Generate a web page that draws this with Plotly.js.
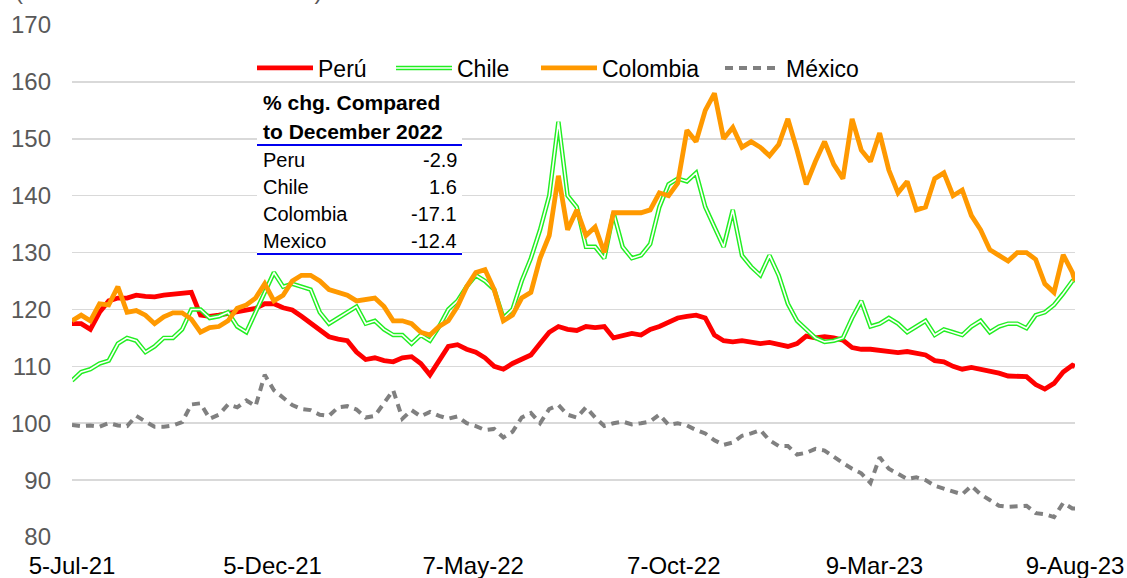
<!DOCTYPE html>
<html><head><meta charset="utf-8">
<script src="https://cdn.plot.ly/plotly-3.0.1.min.js"></script>
<style>html,body{margin:0;padding:0;background:#fff}#chart{width:1127px;height:578px}</style>
</head><body><div id="chart"></div>
<script>
const dates = [
'2021-07-05','2021-07-12','2021-07-19','2021-07-26','2021-08-02','2021-08-09','2021-08-16','2021-08-23','2021-08-30','2021-09-06',
'2021-09-13','2021-09-20','2021-09-27','2021-10-04','2021-10-11','2021-10-18','2021-10-25','2021-11-01','2021-11-08','2021-11-15',
'2021-11-22','2021-11-29','2021-12-06','2021-12-13','2021-12-20','2021-12-27','2022-01-03','2022-01-10','2022-01-17','2022-01-24',
'2022-01-31','2022-02-07','2022-02-14','2022-02-21','2022-02-28','2022-03-07','2022-03-14','2022-03-21','2022-03-28','2022-04-04',
'2022-04-11','2022-04-18','2022-04-25','2022-05-02','2022-05-09','2022-05-16','2022-05-23','2022-05-30','2022-06-06','2022-06-13',
'2022-06-20','2022-06-27','2022-07-04','2022-07-11','2022-07-18','2022-07-25','2022-08-01','2022-08-08','2022-08-15','2022-08-22',
'2022-08-29','2022-09-05','2022-09-12','2022-09-19','2022-09-26','2022-10-03','2022-10-10','2022-10-17','2022-10-24','2022-10-31',
'2022-11-07','2022-11-14','2022-11-21','2022-11-28','2022-12-05','2022-12-12','2022-12-19','2022-12-26','2023-01-02','2023-01-09',
'2023-01-16','2023-01-23','2023-01-30','2023-02-06','2023-02-13','2023-02-20','2023-02-27','2023-03-06','2023-03-13','2023-03-20',
'2023-03-27','2023-04-03','2023-04-10','2023-04-17','2023-04-24','2023-05-01','2023-05-08','2023-05-15','2023-05-22','2023-05-29',
'2023-06-05','2023-06-12','2023-06-19','2023-06-26','2023-07-03','2023-07-10','2023-07-17','2023-07-24','2023-07-31','2023-08-07',
'2023-08-09'];

const peru = [117.5,117.5,116.5,119.5,121.5,122,122,122.5,122.3,122.2,
122.5,122.7,122.8,123,119,118.8,119,119.3,119.5,119.7,
120.2,121,121,120.3,119.9,118.8,117.6,116.5,115.2,114.8,
114.5,112.5,111.2,111.5,111,110.8,111.5,111.7,110.5,108.5,
111,113.5,113.8,113,112.5,111.5,110,109.5,110.5,111.2,
112,114,116,117,116.5,116.3,117,116.8,117,115,
115.5,115.8,115.5,116.5,117,117.8,118.5,118.8,119,118.5,
115.5,114.5,114.3,114.5,114.2,114,114.2,113.8,113.5,114,
115.3,115,115.2,115,114.6,113.3,113,113,112.8,112.5,
112.4,112.6,112.3,112,111,110.8,110,109.5,109.8,109.5,
109.2,108.8,108.3,108.2,108.2,106.8,106,107,109,110.2,
110];

const chile = [107.5,109,109.5,110.5,111,114,115,114.5,112.5,113.5,
115,115,116.5,120,120,118.5,118.8,119.5,117,116,
119.5,123,126.5,124,124.5,124,123.5,119.5,117.5,118.5,
119.5,120.5,117.5,118,116.5,115.5,115.5,114,115.5,114.5,
117,120,121.5,124,126,125,123.5,118.5,120,125,
129,134,140,153,140,138,131,131,129,137,
131,129,129.5,131.5,138,142,143,142.5,144,138,
134.5,131,137.5,129.5,127.5,126,129.5,126,121,118,
116.5,115,114.3,114.5,115,118.5,121.5,117,117.5,118.5,
117.5,116,117,118,115.5,116.5,116,115.5,117,118,
116,117,117.5,117.5,116.7,119,119.5,120.8,122.8,125,
125.2];

const colombia = [118,119,118,121,120.8,124,119.5,119.8,119,117.5,
118.7,119.4,119.4,118.3,116,116.8,117,118,120.2,120.8,
122,124.5,121.5,122.5,125,126,126,125,123.5,123,
122.5,121.5,121.8,122,120.5,118,118,117.5,116,115.5,
117,118,120.5,124,126.5,127,123.5,118,119,122,
123,129,133,143.5,134,137.5,133,134.5,130,137,
137,137,137,137.5,140.5,140,142.2,151.5,149.5,155,
158,150,152,148.5,149.5,148.5,147,149,153.5,148,
142,146,149.5,145.5,143,153.5,148,146,151,144.5,
140.5,142.5,137.5,138,143,144,140,141,136.5,134,
130.5,129.5,128.5,130,130,128.8,124.5,123,129.6,126.5,
125];

const mexico = [99.7,99.5,99.6,99.4,100,99.6,99.5,101.3,100.3,99.4,
99.4,99.6,100.2,103.3,103.5,100.8,101.5,103.3,102.8,104,
103,108.5,105.8,104.6,103.2,102.5,102.3,101.5,101.3,102.8,
103,102.4,101,101.3,103.5,105.8,100.8,102.3,101.2,102,
101.3,100.8,101.2,100,99.5,98.8,99,97.5,98.5,101,
101.8,100,102.5,103.2,101.5,101,102.8,101,99.5,100,
100.3,99.8,100,100.3,101.5,99.7,100,99.6,98.8,98.2,
97,96.2,96.6,97.8,98.2,98.8,97,96,96,94.5,
94.8,95.5,95.2,94,93,92,91.2,89.5,94,92,
91,90.2,90.5,90,89,88.5,88,87.5,89,87.5,
86.5,85.5,85.3,85.4,85.5,84.2,84,83.5,86,85,
85];

const seriesNames = ['Perú','Chile','Colombia','México'];
const tickDates = ['2021-07-05','2021-12-05','2022-05-07','2022-10-07','2023-03-09','2023-08-09'];
const tickLabels = ['5-Jul-21','5-Dec-21','7-May-22','7-Oct-22','9-Mar-23','9-Aug-23'];
const yTicks = [80,90,100,110,120,130,140,150,160,170];
const tableHeader = ['% chg. Compared','to December 2022'];
const tableLabels = ['Peru','Chile','Colombia','Mexico'];
const tableValues = ['-2.9','1.6','-17.1','-12.4'];
const axisTitle = '(Index base 05-Jul-21 = 100)';

// pixel helpers for decorations (plot area: x 72..1075, y 25..537)
const L = 72, R = 1075, T = 25, B = 537;
const px = v => (v - L) / (R - L);
const py = v => (B - v) / (B - T);
const legendStarts = [257, 396, 541, 725];

const FONT = '"Liberation Sans", Arial, Helvetica, sans-serif';

const traces = [
  {x: dates, y: peru, name: seriesNames[0], type: 'scatter', mode: 'lines',
   line: {color: '#FF0000', width: 4.8}},
  {x: dates, y: chile, name: seriesNames[1], type: 'scatter', mode: 'lines',
   line: {color: '#22EE22', width: 4.5}},
  {x: dates, y: chile, name: seriesNames[1], type: 'scatter', mode: 'lines', showlegend: false, hoverinfo: 'skip',
   line: {color: '#FFFFFF', width: 1.6}},
  {x: dates, y: colombia, name: seriesNames[2], type: 'scatter', mode: 'lines',
   line: {color: '#FF9900', width: 4.8}},
  {x: dates, y: mexico, name: seriesNames[3], type: 'scatter', mode: 'lines',
   line: {color: '#808080', width: 4, dash: '8px,6px'}}
];

const shapes = [
  {type: 'rect', xref: 'paper', yref: 'paper', x0: px(257), x1: px(462), y0: py(255), y1: py(88),
   fillcolor: '#FFFFFF', line: {width: 0}, layer: 'above'},
  {type: 'line', xref: 'paper', yref: 'paper', x0: px(257), x1: px(462), y0: py(145), y1: py(145),
   line: {color: '#0000EE', width: 2}, layer: 'above'},
  {type: 'line', xref: 'paper', yref: 'paper', x0: px(257), x1: px(462), y0: py(254), y1: py(254),
   line: {color: '#0000EE', width: 2}, layer: 'above'}
];

const annotations = [];
const hdrY = [102, 131];
tableHeader.forEach((t, i) => annotations.push({
  text: '<b>' + t + '</b>', xref: 'paper', yref: 'paper', x: px(261), y: py(hdrY[i]),
  xanchor: 'left', yanchor: 'middle', showarrow: false, font: {family: FONT, size: 21, color: '#000'}
}));
const rowY = [160, 187, 214, 241];
tableLabels.forEach((t, i) => {
  annotations.push({text: t, xref: 'paper', yref: 'paper', x: px(261), y: py(rowY[i]),
    xanchor: 'left', yanchor: 'middle', showarrow: false, font: {family: FONT, size: 20, color: '#000'}});
  annotations.push({text: tableValues[i], xref: 'paper', yref: 'paper', x: px(459), y: py(rowY[i]),
    xanchor: 'right', yanchor: 'middle', showarrow: false, font: {family: FONT, size: 20, color: '#000'}});
});
annotations.push({text: axisTitle, xref: 'paper', yref: 'paper', x: px(13), y: py(6),
  xanchor: 'left', yanchor: 'bottom', showarrow: false, font: {family: FONT, size: 24, color: '#595959'}});

const layout = {
  width: 1127, height: 578,
  margin: {l: L, r: 1127 - R, t: T, b: 578 - B, pad: 0},
  paper_bgcolor: '#FFFFFF', plot_bgcolor: '#FFFFFF',
  font: {family: FONT, size: 24, color: '#000'},
  showlegend: true,
  legend: {orientation: 'h', x: px(252), xanchor: 'left', y: py(68), yanchor: 'middle',
    font: {family: FONT, size: 23, color: '#000'}, bgcolor: 'rgba(0,0,0,0)', itemwidth: 56, traceorder: 'normal'},
  xaxis: {type: 'date', range: [dates[0], dates[dates.length - 1]], tickmode: 'array', tickvals: tickDates, ticktext: tickLabels,
    showgrid: false, zeroline: false, showline: false, ticks: '', tickfont: {family: FONT, size: 24, color: '#000'},
    ticklabelstandoff: 12, fixedrange: true},
  yaxis: {range: [80, 170], tickmode: 'array', tickvals: yTicks, showgrid: true, gridcolor: '#D9D9D9', gridwidth: 1.5,
    zeroline: false, showline: false, ticks: '', tickfont: {family: FONT, size: 24, color: '#595959'},
    ticklabelstandoff: 20, fixedrange: true},
  shapes: shapes,
  annotations: annotations
};

Plotly.newPlot('chart', traces, layout, {displayModeBar: false, staticPlot: true}).then(gd => {
  const host = gd.getBoundingClientRect();
  // let the spread-out legend entries show beyond Plotly's own legend box
  gd.querySelectorAll('.legend .scrollbox, .legend').forEach(el => el.removeAttribute('clip-path'));
  const items = Array.from(gd.querySelectorAll('.legend .traces'));
  items.forEach((it, i) => {
    const p = it.querySelector('path.js-line');
    const txt = it.querySelector('text.legendtext');
    // Chile: white core to match the double line in the plot
    if (p && txt && txt.textContent === seriesNames[1]) {
      const c = p.cloneNode(true);
      c.style.stroke = '#FFFFFF';
      c.style.strokeWidth = '1.6px';
      p.parentNode.appendChild(c);
    }
    // spread the legend entries like the reference
    if (p && i < legendStarts.length) {
      const r = p.getBoundingClientRect();
      const dx = legendStarts[i] - (r.left - host.left);
      const tr = it.getAttribute('transform') || '';
      const m = tr.match(/translate\(\s*([-\d.]+)[ ,]+([-\d.]+)\s*\)/);
      if (m) it.setAttribute('transform', 'translate(' + (parseFloat(m[1]) + dx) + ',' + m[2] + ')');
    }
  });
});
</script>
</body></html>
